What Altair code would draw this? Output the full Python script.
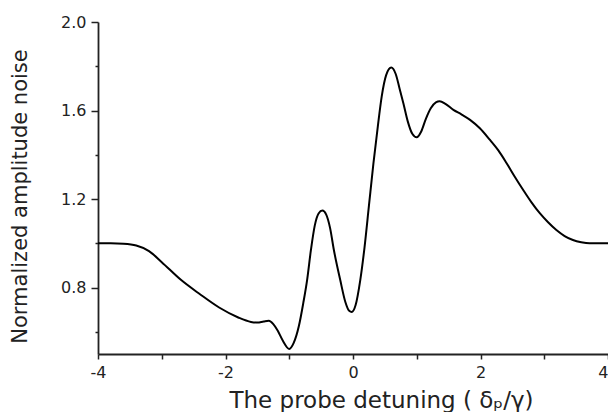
import altair as alt
import pandas as pd

detuning = [-4.0, -3.8, -3.6, -3.4, -3.2, -3.0, -2.7, -2.4, -2.1, -1.8, -1.6, -1.5, -1.4, -1.32,
            -1.25, -1.18, -1.1, -1.0, -0.93, -0.85, -0.78, -0.72, -0.66, -0.6, -0.54, -0.48,
            -0.42, -0.36, -0.3, -0.2, -0.12, -0.06, -0.02, 0.04, 0.114, 0.18, 0.25, 0.32, 0.39,
            0.45, 0.52, 0.6, 0.67, 0.73, 0.79, 0.86, 0.93, 1.0, 1.07, 1.14, 1.22, 1.3, 1.36,
            1.45, 1.575, 1.7, 1.836, 1.99, 2.149, 2.28, 2.41, 2.54, 2.67, 2.8, 2.93, 3.06, 3.19,
            3.32, 3.45, 3.58, 3.71, 3.85, 4.0]
noise = [1.0, 1.0, 0.998, 0.99, 0.965, 0.915, 0.835, 0.77, 0.71, 0.665, 0.645, 0.642, 0.647, 0.65,
         0.635, 0.605, 0.56, 0.523, 0.55, 0.625, 0.73, 0.834, 0.97, 1.08, 1.135, 1.148,
         1.13, 1.07, 0.97, 0.834, 0.735, 0.695, 0.69, 0.72, 0.834, 0.98, 1.17, 1.36, 1.53,
         1.663, 1.76, 1.794, 1.765, 1.70, 1.633, 1.55, 1.495, 1.479, 1.505, 1.56, 1.61, 1.637, 1.642,
         1.63, 1.603, 1.583, 1.558, 1.52, 1.467, 1.42, 1.362, 1.30, 1.241, 1.185, 1.136, 1.095, 1.06,
         1.033, 1.015, 1.005, 1.0, 1.0, 1.0]

x_ticks = [-4, -3, -2, -1, 0, 1, 2, 3, 4]
y_ticks = [0.6, 0.8, 1.0, 1.2, 1.4, 1.6, 1.8, 2.0]

df = pd.DataFrame({"x": detuning, "y": noise})

FONT = "DejaVu Sans"
xscale = alt.Scale(domain=[-4, 4], nice=False, zero=False)
yscale = alt.Scale(domain=[0.5, 2.0], nice=False, zero=False)

major_y = "abs(datum.value * 10 % 4) < 0.01 || abs(datum.value * 10 % 4 - 4) < 0.01"

chart = alt.Chart(df).mark_line(color="black", strokeWidth=2, interpolate="monotone").encode(
    x=alt.X("x:Q", scale=xscale,
            axis=alt.Axis(values=x_ticks,
                          labelExpr="datum.value % 2 == 0 ? toString(datum.value) : ''",
                          labelAlign={"condition": {"test": "datum.value >= 4", "value": "right"},
                                      "value": "center"},
                          title="The probe detuning ( δₚ/γ)",
                          titleFont=FONT, titleFontSize=23, titleFontWeight="normal",
                          titleColor="#222", titleX=283, titleY=53, titleAlign="center",
                          titleBaseline="alphabetic",
                          labelFont=FONT, labelFontSize=16, labelColor="#222", labelPadding=5,
                          tickSize=5, tickColor="#222", tickWidth=1.5,
                          domainColor="#222", domainWidth=1.8, grid=False, labelFlush=False)),
    y=alt.Y("y:Q", scale=yscale,
            axis=alt.Axis(values=y_ticks,
                          labelExpr="(" + major_y + ") ? format(datum.value, '.1f') : ''",
                          title="Normalized amplitude noise",
                          titleFont=FONT, titleFontSize=21, titleFontWeight="normal",
                          titleColor="#222", titleX=-78, titleY=174, titleAlign="center",
                          titleBaseline="middle", titleAngle=270,
                          labelFont=FONT, labelFontSize=16, labelColor="#222", labelPadding=5,
                          tickSize={"condition": {"test": major_y, "value": 7}, "value": 3},
                          tickColor="#222", tickWidth=1.5,
                          domainColor="#222", domainWidth=1.8, grid=False, labelFlush=False)),
).properties(
    width=510, height=332,
    autosize=alt.AutoSizeParams(type="none"),
    padding={"left": 90, "top": 14, "right": 0, "bottom": 58},
).configure_view(stroke=None)

chart.save("out.html", embed_options={"renderer": "svg", "actions": False})
